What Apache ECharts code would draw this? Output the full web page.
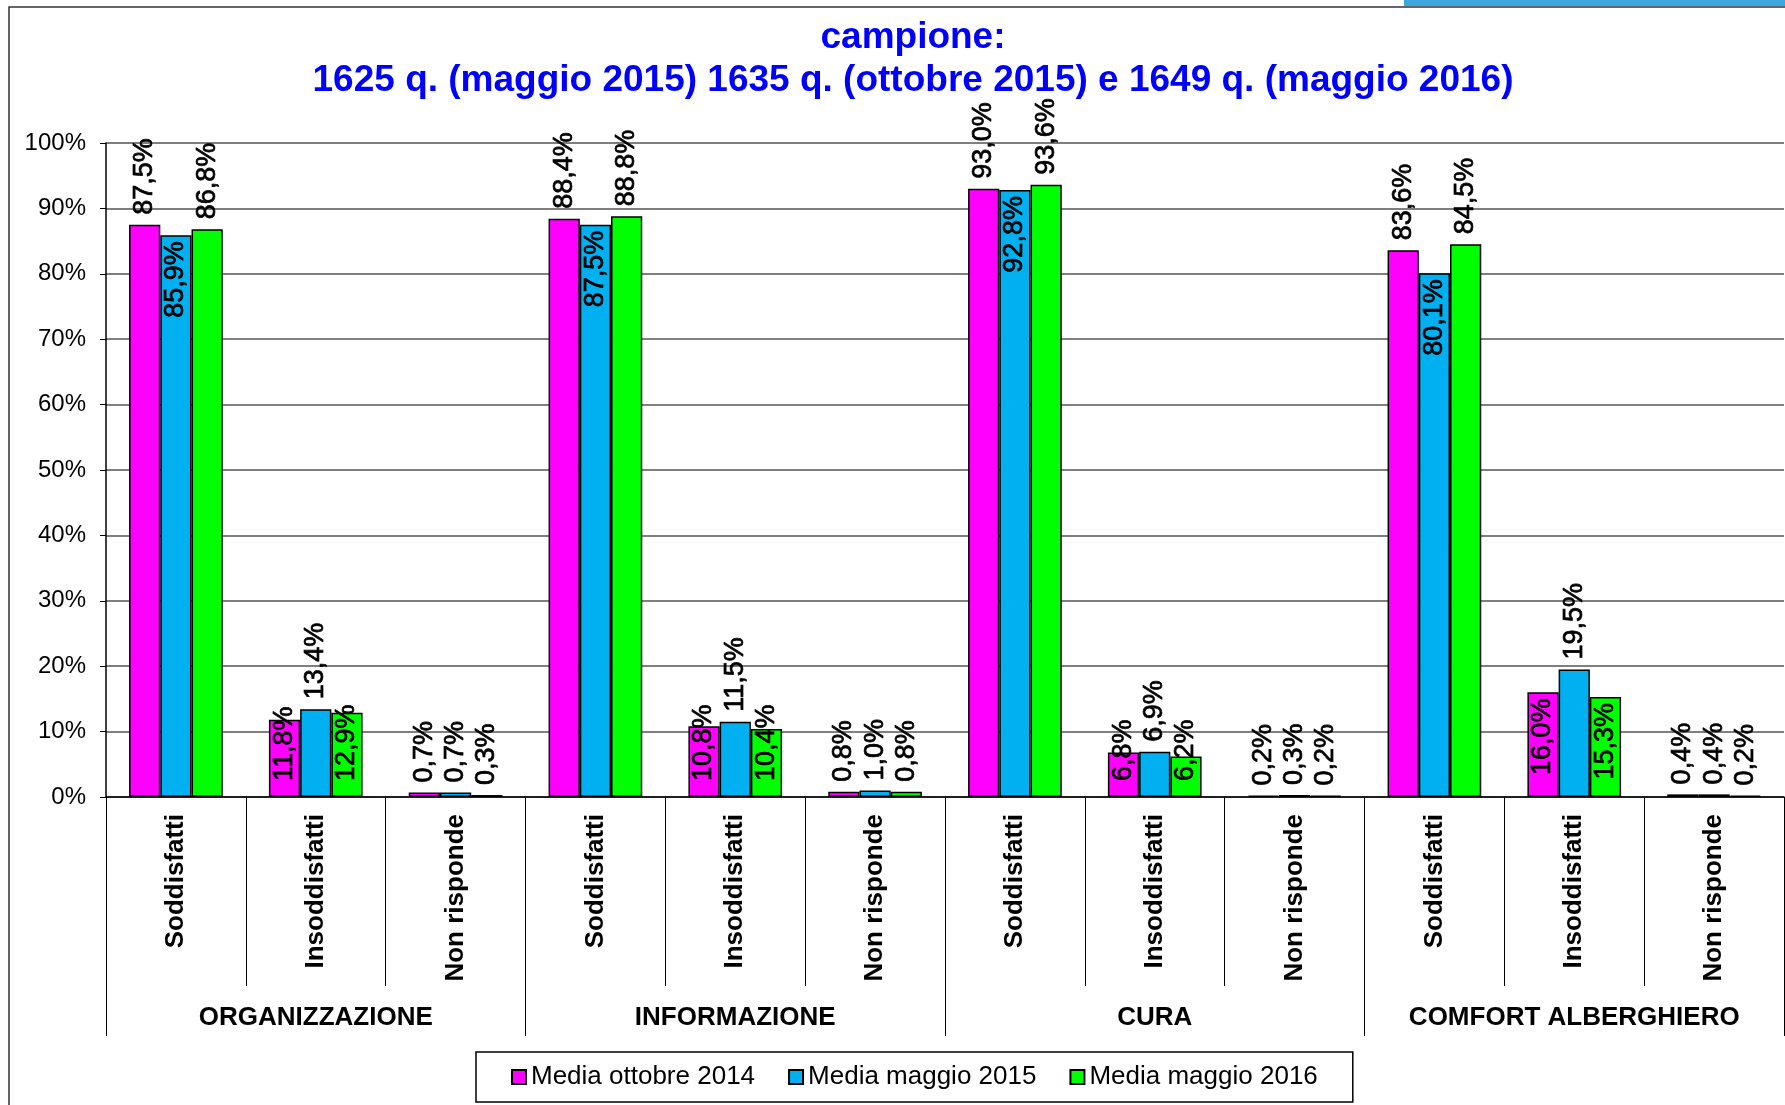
<!DOCTYPE html>
<html>
<head>
<meta charset="utf-8">
<script src="https://cdn.jsdelivr.net/npm/echarts@6/dist/echarts.min.js"></script>
<style>
  html, body { margin: 0; padding: 0; background: #fff; }
  #chart { width: 1785px; height: 1105px; }
</style>
</head>
<body>
<div id="chart"></div>
<script>
const groups = ['ORGANIZZAZIONE', 'INFORMAZIONE', 'CURA', 'COMFORT ALBERGHIERO'];
const answers = ['Soddisfatti', 'Insoddisfatti', 'Non risponde'];
const seriesNames = ['Media ottobre 2014', 'Media maggio 2015', 'Media maggio 2016'];
const ottobre2014 = [87.5, 11.8, 0.7, 88.4, 10.8, 0.8, 93.0, 6.8, 0.2, 83.6, 16.0, 0.4];
const maggio2015 = [85.9, 13.4, 0.7, 87.5, 11.5, 1.0, 92.8, 6.9, 0.3, 80.1, 19.5, 0.4];
const maggio2016 = [86.8, 12.9, 0.3, 88.8, 10.4, 0.8, 93.6, 6.2, 0.2, 84.5, 15.3, 0.2];
const yTicks = [0, 10, 20, 30, 40, 50, 60, 70, 80, 90, 100];

const font = "'Liberation Sans', Arial, sans-serif";
const colors = ['#FF00FF', '#00B0F0', '#00FF00'];

// one category per answer in every group
let categories = [];
groups.forEach(function () {
  answers.forEach(function (a) { categories.push(a); });
});

function fmt(v) {
  return v.toFixed(1).replace('.', ',') + '%';
}

const labelText = {
  show: true, rotate: 90, verticalAlign: 'middle',
  fontFamily: font, fontSize: 27, color: '#000',
  textBorderColor: '#000', textBorderWidth: 0.7,
  formatter: function (p) { return fmt(p.value); }
};
const outsideLabel = Object.assign({}, labelText, { position: 'top', align: 'left', distance: 10 });
const insideTopLabel = Object.assign({}, labelText, { position: 'insideTop', align: 'right', distance: 6 });
// short bars: Excel pushes the text up from the bottom
const insideLowLabel = Object.assign({}, labelText, { position: 'insideBottom', align: 'left', distance: 16 });

function pickLabel(seriesIdx, catIdx, v) {
  let a = categories[catIdx];
  let outside = a === 'Non risponde' ||
    (a === 'Soddisfatti' ? seriesIdx !== 1 : seriesIdx === 1);
  if (outside) return outsideLabel;
  return v < 14 ? insideLowLabel : insideTopLabel;
}

function makeSeries(values, idx) {
  return {
    name: seriesNames[idx],
    type: 'bar',
    barGap: '0%',
    barCategoryGap: '33%',
    itemStyle: { color: colors[idx], borderColor: '#000', borderWidth: 1.5 },
    data: values.map(function (v, i) {
      return { value: v, label: pickLabel(idx, i, v) };
    })
  };
}

let chart = echarts.init(document.getElementById('chart'));
chart.setOption({
  animation: false,
  backgroundColor: '#fff',
  textStyle: { fontFamily: font },
  title: {
    text: 'campione:\n1625 q. (maggio 2015) 1635 q. (ottobre 2015) e 1649 q. (maggio 2016)',
    left: 908,
    top: 11,
    textAlign: 'center',
    textStyle: { fontFamily: font, fontSize: 37, fontWeight: 'bold', color: '#0000FF', lineHeight: 43 }
  },
  graphic: [
    { type: 'rect', shape: { x: 1404, y: 0, width: 381, height: 6 }, style: { fill: '#3aa6dc' } },
    { type: 'polyline', shape: { points: [[9, 1105], [9, 7], [1785, 7]] }, style: { stroke: '#333', lineWidth: 1.5, fill: null } }
  ],
  legend: {
    left: 476,
    top: 1052,
    padding: [12, 35],
    itemGap: 33,
    itemWidth: 14,
    itemHeight: 14,
    icon: 'rect',
    borderColor: '#000',
    borderWidth: 1.5,
    textStyle: { fontFamily: font, fontSize: 26, color: '#000' },
    data: seriesNames
  },
  grid: { left: 106, right: 1, top: 143, bottom: 308 },
  xAxis: [
    {
      type: 'category',
      data: categories,
      position: 'bottom',
      axisLine: { show: true, lineStyle: { color: '#000', width: 1.5 } },
      axisTick: { show: true, interval: 0, length: 189, lineStyle: { color: '#000', width: 1 } },
      axisLabel: {
        interval: 0, rotate: 90, margin: 17,
        fontFamily: font, fontSize: 26, fontWeight: 'bold', color: '#000'
      }
    },
    {
      type: 'category',
      data: groups,
      position: 'bottom',
      axisLine: { show: false },
      axisTick: { show: true, interval: 0, length: 239, lineStyle: { color: '#000', width: 1 } },
      axisLabel: {
        interval: 0, margin: 208,
        fontFamily: font, fontSize: 26, fontWeight: 'bold', color: '#000'
      }
    }
  ],
  yAxis: {
    type: 'value',
    min: yTicks[0],
    max: yTicks[yTicks.length - 1],
    interval: 10,
    axisLine: { show: true, lineStyle: { color: '#000', width: 1.5 } },
    axisTick: { show: true, length: 6, lineStyle: { color: '#000' } },
    axisLabel: { formatter: '{value}%', margin: 20, fontFamily: font, fontSize: 24, color: '#000' },
    splitLine: { lineStyle: { color: '#555', width: 1.5 } }
  },
  series: [
    makeSeries(ottobre2014, 0),
    makeSeries(maggio2015, 1),
    makeSeries(maggio2016, 2)
  ]
});
</script>
</body>
</html>
